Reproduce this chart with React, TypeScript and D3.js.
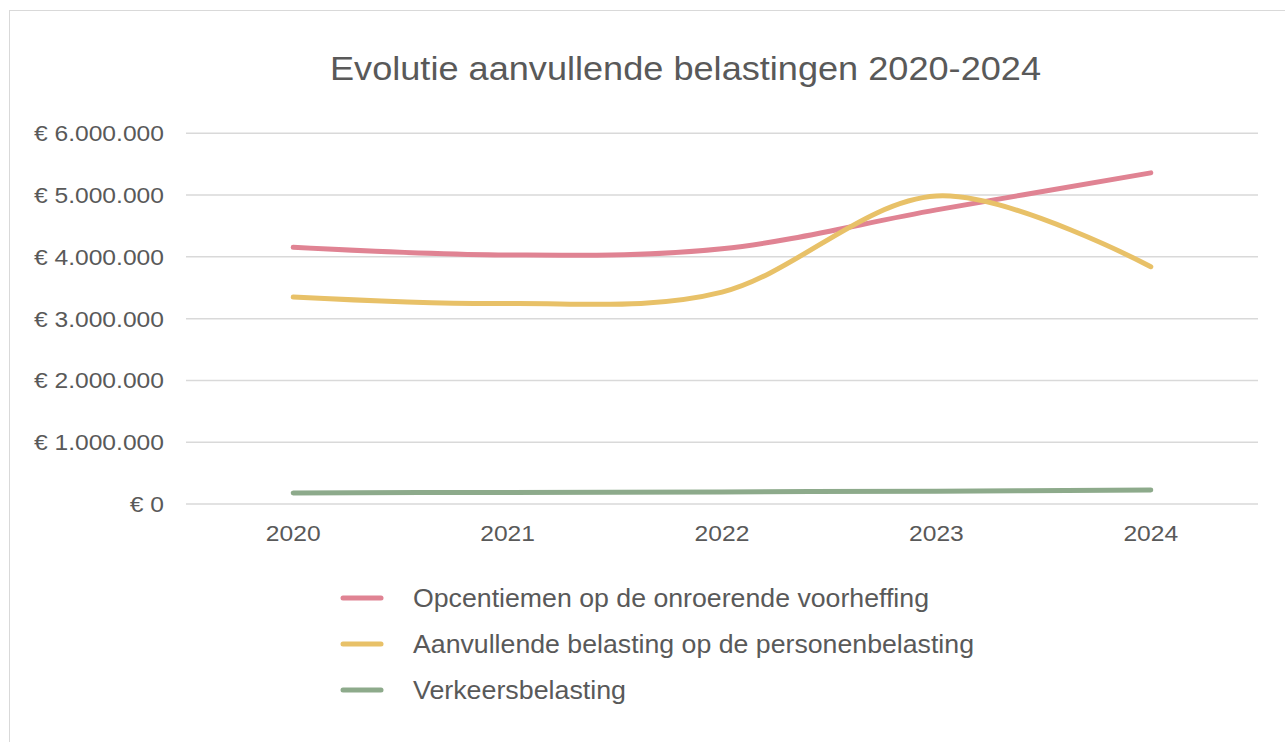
import React from "react";
import * as d3 from "d3";

const years = ["2020", "2021", "2022", "2023", "2024"];
const opcentiemen = [4155000, 4030000, 4130000, 4760000, 5360000];
const aanvullende = [3350000, 3245000, 3430000, 4985000, 3840000];
const verkeers = [180000, 188000, 196000, 208000, 225000];
const yTicks = [0, 1000000, 2000000, 3000000, 4000000, 5000000, 6000000];
const seriesNames = [
  "Opcentiemen op de onroerende voorheffing",
  "Aanvullende belasting op de personenbelasting",
  "Verkeersbelasting",
];
const seriesColors = ["#E08393", "#E8C168", "#8DAA8B"];
const title = "Evolutie aanvullende belastingen 2020-2024";

const W = 1285;
const H = 742;
const FONT = "'Liberation Sans', Arial, sans-serif";
const TEXT = "#595959";
const STRETCH = 1.12;

const locale = d3.formatLocale({
  decimal: ",",
  thousands: ".",
  grouping: [3],
  currency: ["€ ", ""],
});
const fmt = locale.format("$,.0f");

export default function App() {
  const x = d3.scalePoint<string>().domain(years).range([186, 1258]).padding(0.5);
  const y = d3.scaleLinear().domain([0, 6000000]).range([504, 133.3]);
  const line = d3
    .line<number>()
    .x((_, i) => x(years[i]) as number)
    .y((d) => y(d))
    .curve(d3.curveCatmullRom.alpha(0));

  const series = [opcentiemen, aanvullende, verkeers];
  const legendTextLen = [516, 561, 213];

  return (
    <div style={{ position: "absolute", left: 0, top: 0 }}>
      <svg width={W} height={H} style={{ display: "block", background: "#fff" }}>
        <rect x={9.5} y={10.5} width={1300} height={800} fill="#fff" stroke="#D9D9D9" strokeWidth={1} />
        <text
          x={685.5}
          y={80}
          textAnchor="middle"
          fontFamily={FONT}
          fontSize={34}
          fill={TEXT}
          textLength={711}
          lengthAdjust="spacingAndGlyphs"
        >
          {title}
        </text>
        {yTicks.map((t) => (
          <g key={t}>
            <line x1={186} x2={1258} y1={y(t)} y2={y(t)} stroke="#D9D9D9" strokeWidth={1.5} />
            <text
              transform={`translate(164,${y(t) + 8}) scale(${STRETCH},1)`}
              textAnchor="end"
              fontFamily={FONT}
              fontSize={22}
              fill={TEXT}
            >
              {fmt(t)}
            </text>
          </g>
        ))}
        {years.map((yr) => (
          <text
            key={yr}
            transform={`translate(${x(yr) as number},541) scale(${STRETCH},1)`}
            textAnchor="middle"
            fontFamily={FONT}
            fontSize={22}
            fill={TEXT}
          >
            {yr}
          </text>
        ))}
        {series.map((s, i) => (
          <path
            key={i}
            d={line(s) || ""}
            fill="none"
            stroke={seriesColors[i]}
            strokeWidth={5}
            strokeLinecap="round"
            strokeLinejoin="round"
          />
        ))}
        {seriesNames.map((n, i) => {
          const ly = 598 + i * 46;
          return (
            <g key={n}>
              <line x1={343} x2={381} y1={ly} y2={ly} stroke={seriesColors[i]} strokeWidth={5} strokeLinecap="round" />
              <text
                x={413}
                y={ly + 9}
                fontFamily={FONT}
                fontSize={25}
                fill={TEXT}
                textLength={legendTextLen[i]}
                lengthAdjust="spacingAndGlyphs"
              >
                {n}
              </text>
            </g>
          );
        })}
      </svg>
    </div>
  );
}
